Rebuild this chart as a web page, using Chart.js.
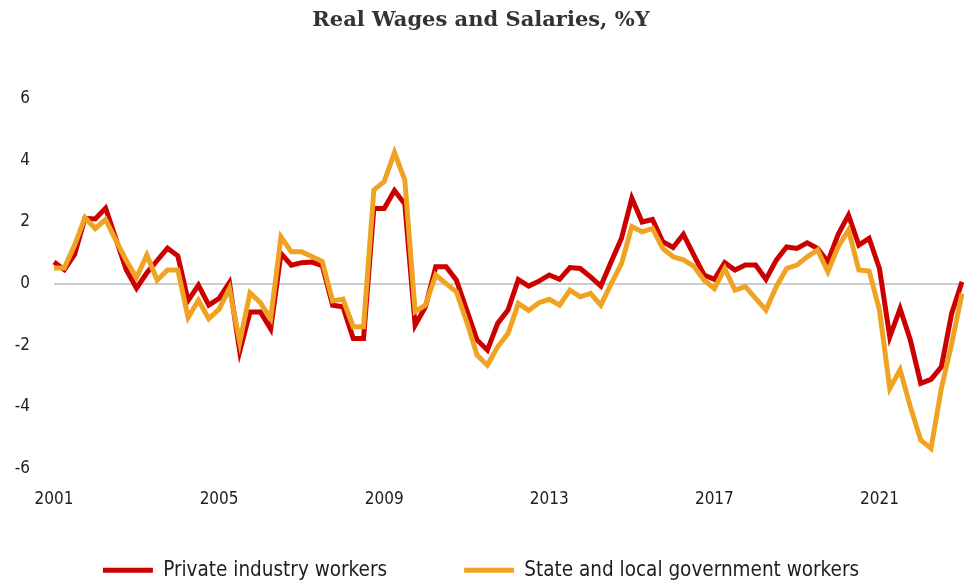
<!DOCTYPE html>
<html>
<head>
<meta charset="utf-8">
<script src="https://cdn.jsdelivr.net/npm/chart.js@4.4.1/dist/chart.umd.min.js"></script>
<style>
  html, body { margin: 0; padding: 0; background: #fff; }
</style>
</head>
<body>
<canvas id="wages" width="964" height="583"></canvas>
<script>
//------------------------------------------------------------
// quarterly, 2001Q1 .. 2023Q1
const years = [];
for (let y = 2001; y <= 2023; y++) years.push(y);
const quarters = years.flatMap(y => ['Q1', 'Q2', 'Q3', 'Q4'].map(q => y + q)).slice(0, 89);

const tickYears = ['2001', '2005', '2009', '2013', '2017', '2021'];

const privateWorkers = [
    0.70, 0.45, 0.95, 2.12, 2.10, 2.45, 1.45, 0.45,
    -0.15, 0.35, 0.75, 1.15, 0.90, -0.55, -0.05, -0.70,
    -0.48, 0.03, -2.20, -0.92, -0.92, -1.47, 0.98, 0.60,
    0.68, 0.70, 0.58, -0.70, -0.75, -1.78, -1.78, 2.44,
    2.44, 3.02, 2.58, -1.35, -0.75, 0.55, 0.55, 0.11,
    -0.86, -1.83, -2.16, -1.29, -0.86, 0.13, -0.08, 0.08,
    0.28, 0.14, 0.52, 0.49, 0.22, -0.08, 0.71, 1.47,
    2.77, 2.00, 2.08, 1.36, 1.17, 1.60, 0.93, 0.28,
    0.14, 0.68, 0.44, 0.60, 0.60, 0.14, 0.76, 1.19,
    1.14, 1.32, 1.14, 0.71, 1.60, 2.22, 1.25, 1.47,
    0.49, -1.73, -0.81, -1.84, -3.24, -3.11, -2.70, -0.97,
    0.06,
];

const stateLocalWorkers = [
    0.51, 0.51, 1.25, 2.14, 1.79, 2.08, 1.40, 0.75,
    0.20, 0.93, 0.11, 0.44, 0.44, -1.10, -0.54, -1.14,
    -0.83, -0.16, -1.90, -0.30, -0.62, -1.13, 1.52, 1.03,
    1.03, 0.88, 0.72, -0.56, -0.50, -1.40, -1.40, 3.04,
    3.31, 4.25, 3.36, -0.91, -0.70, 0.28, 0.00, -0.27,
    -1.24, -2.32, -2.65, -2.05, -1.62, -0.64, -0.87, -0.62,
    -0.51, -0.70, -0.21, -0.43, -0.32, -0.70, 0.00, 0.65,
    1.85, 1.68, 1.79, 1.14, 0.87, 0.77, 0.57, 0.11,
    -0.16, 0.49, -0.21, -0.10, -0.48, -0.86, -0.10, 0.49,
    0.60, 0.87, 1.09, 0.38, 1.20, 1.74, 0.44, 0.41,
    -0.86, -3.40, -2.80, -4.00, -5.08, -5.35, -3.40, -1.95,
    -0.32,
];

//------------------------------------------------------------
const red = '#cc0000';
const orange = '#f0a323';
const textColor = '#1e1e1e';
const sansFont = "'DejaVu Sans Condensed', 'DejaVu Sans', sans-serif";

const defaultLabels = Chart.defaults.plugins.legend.labels.generateLabels;

const chart = new Chart(document.getElementById('wages').getContext('2d'), {
    type: 'line',
    data: {
        labels: quarters,
        datasets: [
            {
                label: 'Private industry workers',
                data: privateWorkers,
                borderColor: red,
                backgroundColor: red,
                borderWidth: 5,
                pointRadius: 0,
                tension: 0,
                order: 2,
            },
            {
                label: 'State and local government workers',
                data: stateLocalWorkers,
                borderColor: orange,
                backgroundColor: orange,
                borderWidth: 5,
                pointRadius: 0,
                tension: 0,
                order: 1,
            },
        ],
    },
    options: {
        responsive: false,
        animation: false,
        layout: { padding: { left: 0, right: 2, top: 0, bottom: 0 } },
        plugins: {
            title: {
                display: true,
                text: 'Real Wages and Salaries, %Y',
                color: '#333333',
                font: { family: "'DejaVu Serif', serif", size: 21, weight: 'bold' },
                padding: { top: 8, bottom: 65.5 },
            },
            legend: {
                position: 'bottom',
                maxHeight: 100,
                labels: {
                    color: textColor,
                    font: { family: sansFont, size: 20.5 },
                    boxWidth: 50,
                    boxHeight: 5,
                    padding: 77,
                    sort: (a, b) => a.datasetIndex - b.datasetIndex,
                    generateLabels: c => defaultLabels(c).map(item => ({ ...item, lineWidth: 0 })),
                },
            },
            tooltip: { enabled: false },
        },
        scales: {
            x: {
                grid: { display: false, drawTicks: false },
                border: { display: false },
                ticks: {
                    autoSkip: false,
                    maxRotation: 0,
                    padding: 21,
                    color: textColor,
                    font: { family: sansFont, size: 17 },
                    callback: function (value) {
                        const year = quarters[value].slice(0, 4);
                        return quarters[value].endsWith('Q1') && tickYears.includes(year) ? year : '';
                    },
                },
                afterFit: scale => {
                    // thin axis box; let the year labels spill below it
                    scale.height = 14.5;
                    scale.paddingLeft = 0;
                    scale.paddingRight = 0;
                    scale._computeLabelArea = () => undefined;
                },
            },
            y: {
                min: -6,
                max: 6,
                grid: {
                    drawTicks: false,
                    lineWidth: 2,
                    color: ctx => ctx.tick && ctx.tick.value === 0 ? '#cdcdcd' : 'rgba(0,0,0,0)',
                },
                border: { display: false },
                ticks: {
                    stepSize: 2,
                    padding: 24,
                    color: textColor,
                    font: { family: sansFont, size: 17 },
                },
                afterFit: scale => { scale.width = 54; },
            },
        },
    },
});
</script>
</body>
</html>
